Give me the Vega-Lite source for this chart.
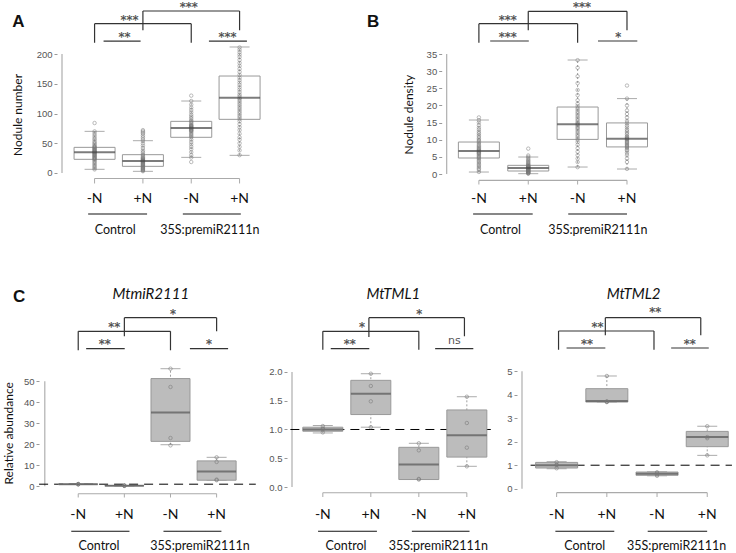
{
"$schema": "https://vega.github.io/schema/vega-lite/v6.json",
"background": "white",
"padding": {"left": 2, "top": 0, "right": 0, "bottom": 0},
"config": {
 "view": {"stroke": null},
 "axis": {"domain": false, "grid": false, "ticks": true, "tickSize": 3, "tickColor": "#999999", "labelColor": "#555555", "labelFont": "Liberation Sans", "labelFontSize": 9.5, "labelPadding": 2, "labelFlush": false, "labelOverlap": false, "labelBound": false, "titleFont": "Lato", "titleFontSize": 12, "titleFontWeight": "normal", "titleColor": "#111111", "titleAngle": -90, "titleAlign": "center", "titleBaseline": "middle"},
 "axisY": {"labelOverlap": false},
 "axisLeft": {"labelOverlap": false}
},
"datasets": {
 "box": [
  {"p":"A","g":1,"lab":"-N","lo":6.2,"q1":23,"med":34.7,"q3":43.1,"hi":70},
  {"p":"A","g":2,"lab":"+N","lo":2.8,"q1":11.2,"med":20.2,"q3":30.8,"hi":54.3},
  {"p":"A","g":3,"lab":"-N","lo":26.3,"q1":60,"med":75.6,"q3":86.8,"hi":121},
  {"p":"A","g":4,"lab":"+N","lo":29.7,"q1":90.2,"med":126.6,"q3":163,"hi":211.8},
  {"p":"B","g":1,"lab":"-N","lo":0.58,"q1":4.67,"med":6.7,"q3":9.33,"hi":15.75},
  {"p":"B","g":2,"lab":"+N","lo":0.1,"q1":0.875,"med":1.75,"q3":2.53,"hi":4.96},
  {"p":"B","g":3,"lab":"-N","lo":2.04,"q1":10.1,"med":14.5,"q3":19.54,"hi":33.25},
  {"p":"B","g":4,"lab":"+N","lo":1.46,"q1":7.9,"med":10.3,"q3":14.9,"hi":22},
  {"p":"C1","g":1,"lab":"-N","lo":0.9,"q1":0.95,"med":1.0,"q3":1.05,"hi":1.1},
  {"p":"C1","g":2,"lab":"+N","lo":0.2,"q1":0.25,"med":0.3,"q3":0.35,"hi":0.4},
  {"p":"C1","g":3,"lab":"-N","lo":19.8,"q1":21.4,"med":35.1,"q3":51.3,"hi":56},
  {"p":"C1","g":4,"lab":"+N","lo":2.9,"q1":2.9,"med":7.1,"q3":12.1,"hi":13.8},
  {"p":"C2","g":1,"lab":"-N","lo":0.94,"q1":0.97,"med":1.0,"q3":1.04,"hi":1.07},
  {"p":"C2","g":2,"lab":"+N","lo":1.04,"q1":1.26,"med":1.62,"q3":1.855,"hi":1.97},
  {"p":"C2","g":3,"lab":"-N","lo":0.13,"q1":0.13,"med":0.39,"q3":0.69,"hi":0.76},
  {"p":"C2","g":4,"lab":"+N","lo":0.36,"q1":0.52,"med":0.9,"q3":1.34,"hi":1.57},
  {"p":"C3","g":1,"lab":"-N","lo":0.85,"q1":0.88,"med":1.0,"q3":1.12,"hi":1.15},
  {"p":"C3","g":2,"lab":"+N","lo":3.69,"q1":3.69,"med":3.74,"q3":4.26,"hi":4.8},
  {"p":"C3","g":3,"lab":"-N","lo":0.55,"q1":0.57,"med":0.64,"q3":0.71,"hi":0.72},
  {"p":"C3","g":4,"lab":"+N","lo":1.42,"q1":1.79,"med":2.2,"q3":2.44,"hi":2.66}
 ],
 "pts": [
  {"p":"A","g":1,"v":84},{"p":"A","g":1,"v":70},{"p":"A","g":1,"v":67},{"p":"A","g":1,"v":64},{"p":"A","g":1,"v":61},{"p":"A","g":1,"v":58},{"p":"A","g":1,"v":56},{"p":"A","g":1,"v":53},{"p":"A","g":1,"v":51},{"p":"A","g":1,"v":49},{"p":"A","g":1,"v":47},{"p":"A","g":1,"v":45},{"p":"A","g":1,"v":44},{"p":"A","g":1,"v":43},{"p":"A","g":1,"v":42},{"p":"A","g":1,"v":41},{"p":"A","g":1,"v":40},{"p":"A","g":1,"v":39},{"p":"A","g":1,"v":38},{"p":"A","g":1,"v":37},{"p":"A","g":1,"v":36},{"p":"A","g":1,"v":35.5},{"p":"A","g":1,"v":35},{"p":"A","g":1,"v":34.5},{"p":"A","g":1,"v":34},{"p":"A","g":1,"v":33},{"p":"A","g":1,"v":32},{"p":"A","g":1,"v":31},{"p":"A","g":1,"v":30},{"p":"A","g":1,"v":29},{"p":"A","g":1,"v":28},{"p":"A","g":1,"v":27},{"p":"A","g":1,"v":26},{"p":"A","g":1,"v":25},{"p":"A","g":1,"v":24},{"p":"A","g":1,"v":23},{"p":"A","g":1,"v":22},{"p":"A","g":1,"v":20},{"p":"A","g":1,"v":18},{"p":"A","g":1,"v":16},{"p":"A","g":1,"v":14},{"p":"A","g":1,"v":12},{"p":"A","g":1,"v":10},{"p":"A","g":1,"v":8},{"p":"A","g":1,"v":6},
  {"p":"A","g":2,"v":72},{"p":"A","g":2,"v":70},{"p":"A","g":2,"v":68},{"p":"A","g":2,"v":66},{"p":"A","g":2,"v":63},{"p":"A","g":2,"v":60},{"p":"A","g":2,"v":57},{"p":"A","g":2,"v":54},{"p":"A","g":2,"v":50},{"p":"A","g":2,"v":46},{"p":"A","g":2,"v":42},{"p":"A","g":2,"v":38},{"p":"A","g":2,"v":35},{"p":"A","g":2,"v":32},{"p":"A","g":2,"v":30},{"p":"A","g":2,"v":28},{"p":"A","g":2,"v":26},{"p":"A","g":2,"v":25},{"p":"A","g":2,"v":24},{"p":"A","g":2,"v":23},{"p":"A","g":2,"v":22},{"p":"A","g":2,"v":21},{"p":"A","g":2,"v":20.5},{"p":"A","g":2,"v":20},{"p":"A","g":2,"v":19.5},{"p":"A","g":2,"v":19},{"p":"A","g":2,"v":18},{"p":"A","g":2,"v":17},{"p":"A","g":2,"v":16},{"p":"A","g":2,"v":15},{"p":"A","g":2,"v":14},{"p":"A","g":2,"v":13},{"p":"A","g":2,"v":12},{"p":"A","g":2,"v":11},{"p":"A","g":2,"v":10},{"p":"A","g":2,"v":9},{"p":"A","g":2,"v":8},{"p":"A","g":2,"v":7},{"p":"A","g":2,"v":6},{"p":"A","g":2,"v":5},{"p":"A","g":2,"v":4},{"p":"A","g":2,"v":3},
  {"p":"A","g":3,"v":130},{"p":"A","g":3,"v":121},{"p":"A","g":3,"v":115},{"p":"A","g":3,"v":110},{"p":"A","g":3,"v":106},{"p":"A","g":3,"v":102},{"p":"A","g":3,"v":98},{"p":"A","g":3,"v":95},{"p":"A","g":3,"v":92},{"p":"A","g":3,"v":89},{"p":"A","g":3,"v":87},{"p":"A","g":3,"v":85},{"p":"A","g":3,"v":83},{"p":"A","g":3,"v":81},{"p":"A","g":3,"v":80},{"p":"A","g":3,"v":79},{"p":"A","g":3,"v":78},{"p":"A","g":3,"v":77},{"p":"A","g":3,"v":76},{"p":"A","g":3,"v":75.5},{"p":"A","g":3,"v":75},{"p":"A","g":3,"v":74},{"p":"A","g":3,"v":73},{"p":"A","g":3,"v":72},{"p":"A","g":3,"v":71},{"p":"A","g":3,"v":70},{"p":"A","g":3,"v":68},{"p":"A","g":3,"v":66},{"p":"A","g":3,"v":64},{"p":"A","g":3,"v":62},{"p":"A","g":3,"v":60},{"p":"A","g":3,"v":56},{"p":"A","g":3,"v":52},{"p":"A","g":3,"v":48},{"p":"A","g":3,"v":44},{"p":"A","g":3,"v":40},{"p":"A","g":3,"v":35},{"p":"A","g":3,"v":30},{"p":"A","g":3,"v":26},{"p":"A","g":3,"v":18.5},
  {"p":"A","g":4,"v":211},{"p":"A","g":4,"v":207},{"p":"A","g":4,"v":203},{"p":"A","g":4,"v":199},{"p":"A","g":4,"v":195},{"p":"A","g":4,"v":190},{"p":"A","g":4,"v":185},{"p":"A","g":4,"v":180},{"p":"A","g":4,"v":175},{"p":"A","g":4,"v":170},{"p":"A","g":4,"v":165},{"p":"A","g":4,"v":160},{"p":"A","g":4,"v":156},{"p":"A","g":4,"v":152},{"p":"A","g":4,"v":148},{"p":"A","g":4,"v":144},{"p":"A","g":4,"v":140},{"p":"A","g":4,"v":136},{"p":"A","g":4,"v":132},{"p":"A","g":4,"v":129},{"p":"A","g":4,"v":126},{"p":"A","g":4,"v":124},{"p":"A","g":4,"v":121},{"p":"A","g":4,"v":118},{"p":"A","g":4,"v":115},{"p":"A","g":4,"v":112},{"p":"A","g":4,"v":109},{"p":"A","g":4,"v":106},{"p":"A","g":4,"v":103},{"p":"A","g":4,"v":100},{"p":"A","g":4,"v":97},{"p":"A","g":4,"v":94},{"p":"A","g":4,"v":91},{"p":"A","g":4,"v":87},{"p":"A","g":4,"v":82},{"p":"A","g":4,"v":77},{"p":"A","g":4,"v":72},{"p":"A","g":4,"v":66},{"p":"A","g":4,"v":60},{"p":"A","g":4,"v":56},{"p":"A","g":4,"v":50},{"p":"A","g":4,"v":44},{"p":"A","g":4,"v":38},{"p":"A","g":4,"v":30},
  {"p":"B","g":1,"v":16.5},{"p":"B","g":1,"v":15.7},{"p":"B","g":1,"v":15},{"p":"B","g":1,"v":14.2},{"p":"B","g":1,"v":13.5},{"p":"B","g":1,"v":12.9},{"p":"B","g":1,"v":12.3},{"p":"B","g":1,"v":11.8},{"p":"B","g":1,"v":11.3},{"p":"B","g":1,"v":10.8},{"p":"B","g":1,"v":10.3},{"p":"B","g":1,"v":9.9},{"p":"B","g":1,"v":9.5},{"p":"B","g":1,"v":9.1},{"p":"B","g":1,"v":8.7},{"p":"B","g":1,"v":8.3},{"p":"B","g":1,"v":8},{"p":"B","g":1,"v":7.7},{"p":"B","g":1,"v":7.4},{"p":"B","g":1,"v":7.1},{"p":"B","g":1,"v":6.9},{"p":"B","g":1,"v":6.7},{"p":"B","g":1,"v":6.5},{"p":"B","g":1,"v":6.3},{"p":"B","g":1,"v":6.1},{"p":"B","g":1,"v":5.9},{"p":"B","g":1,"v":5.6},{"p":"B","g":1,"v":5.3},{"p":"B","g":1,"v":5},{"p":"B","g":1,"v":4.7},{"p":"B","g":1,"v":4.4},{"p":"B","g":1,"v":4},{"p":"B","g":1,"v":3.6},{"p":"B","g":1,"v":3.2},{"p":"B","g":1,"v":2.8},{"p":"B","g":1,"v":2.4},{"p":"B","g":1,"v":2},{"p":"B","g":1,"v":1.6},{"p":"B","g":1,"v":1.2},{"p":"B","g":1,"v":0.6},
  {"p":"B","g":2,"v":7.4},{"p":"B","g":2,"v":5.4},{"p":"B","g":2,"v":5.0},{"p":"B","g":2,"v":4.6},{"p":"B","g":2,"v":4.2},{"p":"B","g":2,"v":3.9},{"p":"B","g":2,"v":3.6},{"p":"B","g":2,"v":3.3},{"p":"B","g":2,"v":3.0},{"p":"B","g":2,"v":2.8},{"p":"B","g":2,"v":2.6},{"p":"B","g":2,"v":2.4},{"p":"B","g":2,"v":2.3},{"p":"B","g":2,"v":2.2},{"p":"B","g":2,"v":2.1},{"p":"B","g":2,"v":2.0},{"p":"B","g":2,"v":1.9},{"p":"B","g":2,"v":1.8},{"p":"B","g":2,"v":1.75},{"p":"B","g":2,"v":1.7},{"p":"B","g":2,"v":1.6},{"p":"B","g":2,"v":1.5},{"p":"B","g":2,"v":1.4},{"p":"B","g":2,"v":1.3},{"p":"B","g":2,"v":1.2},{"p":"B","g":2,"v":1.1},{"p":"B","g":2,"v":1.0},{"p":"B","g":2,"v":0.9},{"p":"B","g":2,"v":0.8},{"p":"B","g":2,"v":0.7},{"p":"B","g":2,"v":0.6},{"p":"B","g":2,"v":0.5},{"p":"B","g":2,"v":0.4},{"p":"B","g":2,"v":0.3},{"p":"B","g":2,"v":0.2},{"p":"B","g":2,"v":0.1},
  {"p":"B","g":3,"v":33.2},{"p":"B","g":3,"v":31},{"p":"B","g":3,"v":28.5},{"p":"B","g":3,"v":26.5},{"p":"B","g":3,"v":24.5},{"p":"B","g":3,"v":23},{"p":"B","g":3,"v":21.5},{"p":"B","g":3,"v":20.5},{"p":"B","g":3,"v":19.8},{"p":"B","g":3,"v":19.2},{"p":"B","g":3,"v":18.7},{"p":"B","g":3,"v":18.2},{"p":"B","g":3,"v":17.7},{"p":"B","g":3,"v":17.2},{"p":"B","g":3,"v":16.7},{"p":"B","g":3,"v":16.2},{"p":"B","g":3,"v":15.7},{"p":"B","g":3,"v":15.2},{"p":"B","g":3,"v":14.8},{"p":"B","g":3,"v":14.5},{"p":"B","g":3,"v":14.2},{"p":"B","g":3,"v":13.8},{"p":"B","g":3,"v":13.4},{"p":"B","g":3,"v":13},{"p":"B","g":3,"v":12.5},{"p":"B","g":3,"v":12},{"p":"B","g":3,"v":11.5},{"p":"B","g":3,"v":11},{"p":"B","g":3,"v":10.5},{"p":"B","g":3,"v":10},{"p":"B","g":3,"v":9.3},{"p":"B","g":3,"v":8.5},{"p":"B","g":3,"v":7.5},{"p":"B","g":3,"v":6.5},{"p":"B","g":3,"v":5.5},{"p":"B","g":3,"v":4.5},{"p":"B","g":3,"v":3.5},{"p":"B","g":3,"v":2.0},
  {"p":"B","g":4,"v":25.8},{"p":"B","g":4,"v":22},{"p":"B","g":4,"v":20},{"p":"B","g":4,"v":18.5},{"p":"B","g":4,"v":17.5},{"p":"B","g":4,"v":16.5},{"p":"B","g":4,"v":15.5},{"p":"B","g":4,"v":14.8},{"p":"B","g":4,"v":14.2},{"p":"B","g":4,"v":13.6},{"p":"B","g":4,"v":13},{"p":"B","g":4,"v":12.5},{"p":"B","g":4,"v":12},{"p":"B","g":4,"v":11.5},{"p":"B","g":4,"v":11},{"p":"B","g":4,"v":10.7},{"p":"B","g":4,"v":10.4},{"p":"B","g":4,"v":10.2},{"p":"B","g":4,"v":10},{"p":"B","g":4,"v":9.7},{"p":"B","g":4,"v":9.4},{"p":"B","g":4,"v":9.1},{"p":"B","g":4,"v":8.8},{"p":"B","g":4,"v":8.5},{"p":"B","g":4,"v":8.2},{"p":"B","g":4,"v":7.9},{"p":"B","g":4,"v":7.6},{"p":"B","g":4,"v":7.2},{"p":"B","g":4,"v":6.8},{"p":"B","g":4,"v":6.2},{"p":"B","g":4,"v":5.5},{"p":"B","g":4,"v":4.5},{"p":"B","g":4,"v":3.5},{"p":"B","g":4,"v":1.5},
  {"p":"C1","g":1,"v":0.9},{"p":"C1","g":1,"v":1.0},{"p":"C1","g":1,"v":1.05},{"p":"C1","g":1,"v":1.1},
  {"p":"C1","g":2,"v":0.2},{"p":"C1","g":2,"v":0.3},{"p":"C1","g":2,"v":0.3},{"p":"C1","g":2,"v":0.4},
  {"p":"C1","g":3,"v":56},{"p":"C1","g":3,"v":47.3},{"p":"C1","g":3,"v":23},{"p":"C1","g":3,"v":19.5},
  {"p":"C1","g":4,"v":13.8},{"p":"C1","g":4,"v":11.6},{"p":"C1","g":4,"v":3.2},{"p":"C1","g":4,"v":2.9},
  {"p":"C2","g":1,"v":0.95},{"p":"C2","g":1,"v":1.0},{"p":"C2","g":1,"v":1.02},{"p":"C2","g":1,"v":1.06},
  {"p":"C2","g":2,"v":1.97},{"p":"C2","g":2,"v":1.757},{"p":"C2","g":2,"v":1.49},{"p":"C2","g":2,"v":1.04},
  {"p":"C2","g":3,"v":0.76},{"p":"C2","g":3,"v":0.638},{"p":"C2","g":3,"v":0.14},{"p":"C2","g":3,"v":0.13},
  {"p":"C2","g":4,"v":1.57},{"p":"C2","g":4,"v":1.113},{"p":"C2","g":4,"v":0.684},{"p":"C2","g":4,"v":0.36},
  {"p":"C3","g":1,"v":0.87},{"p":"C3","g":1,"v":1.0},{"p":"C3","g":1,"v":1.02},{"p":"C3","g":1,"v":1.13},
  {"p":"C3","g":2,"v":4.8},{"p":"C3","g":2,"v":3.72},{"p":"C3","g":2,"v":3.7},{"p":"C3","g":2,"v":3.69},
  {"p":"C3","g":3,"v":0.55},{"p":"C3","g":3,"v":0.6},{"p":"C3","g":3,"v":0.65},{"p":"C3","g":3,"v":0.7},
  {"p":"C3","g":4,"v":2.66},{"p":"C3","g":4,"v":2.2},{"p":"C3","g":4,"v":2.15},{"p":"C3","g":4,"v":1.42}
 ],
 "segs": [
  {"p":"A","k":"ax","x1":0.326,"x2":0.326,"y1":0,"y2":200},
  {"p":"A","k":"ax","x1":1,"x2":4,"y1":-9.2,"y2":-9.2},
  {"p":"A","k":"ul","x1":0.867,"x2":2.086,"y1":-68.9,"y2":-68.9},
  {"p":"A","k":"ul","x1":2.826,"x2":4.026,"y1":-68.9,"y2":-68.9},
  {"p":"A","k":"br","x1":1,"x2":1,"y1":219,"y2":250.9},
  {"p":"A","k":"br","x1":1,"x2":3,"y1":250.9,"y2":250.9},
  {"p":"A","k":"br","x1":3,"x2":3,"y1":219,"y2":250.9},
  {"p":"A","k":"br","x1":2,"x2":2,"y1":239.8,"y2":272.3},
  {"p":"A","k":"br","x1":2,"x2":4,"y1":272.3,"y2":272.3},
  {"p":"A","k":"br","x1":4,"x2":4,"y1":239.8,"y2":272.3},
  {"p":"A","k":"br","x1":1.186,"x2":1.952,"y1":221.8,"y2":221.8},
  {"p":"A","k":"br","x1":3.366,"x2":4.152,"y1":221.8,"y2":221.8},
  {"p":"B","k":"ax","x1":0.348,"x2":0.348,"y1":0,"y2":35},
  {"p":"B","k":"ax","x1":1,"x2":4,"y1":-1.84,"y2":-1.84},
  {"p":"B","k":"ul","x1":0.883,"x2":2.09,"y1":-11.67,"y2":-11.67},
  {"p":"B","k":"ul","x1":2.81,"x2":4.0,"y1":-11.67,"y2":-11.67},
  {"p":"B","k":"br","x1":1,"x2":1,"y1":38.3,"y2":43.84},
  {"p":"B","k":"br","x1":1,"x2":3,"y1":43.84,"y2":43.84},
  {"p":"B","k":"br","x1":3,"x2":3,"y1":38.3,"y2":43.84},
  {"p":"B","k":"br","x1":2,"x2":2,"y1":41.9,"y2":47.45},
  {"p":"B","k":"br","x1":2,"x2":4,"y1":47.45,"y2":47.45},
  {"p":"B","k":"br","x1":4,"x2":4,"y1":41.9,"y2":47.45},
  {"p":"B","k":"br","x1":1.229,"x2":2.011,"y1":38.79,"y2":38.79},
  {"p":"B","k":"br","x1":3.413,"x2":4.209,"y1":38.79,"y2":38.79},
  {"p":"C1","k":"ax","x1":0.2758,"x2":0.2758,"y1":0,"y2":50},
  {"p":"C1","k":"ax","x1":1,"x2":4,"y1":-3.524,"y2":-3.524},
  {"p":"C1","k":"ul","x1":0.849,"x2":2.111,"y1":-21.43,"y2":-21.43},
  {"p":"C1","k":"ul","x1":2.848,"x2":4.104,"y1":-21.43,"y2":-21.43},
  {"p":"C1","k":"br","x1":1,"x2":1,"y1":64.76,"y2":73.81},
  {"p":"C1","k":"br","x1":1,"x2":3,"y1":73.81,"y2":73.81},
  {"p":"C1","k":"br","x1":3,"x2":3,"y1":64.76,"y2":73.81},
  {"p":"C1","k":"br","x1":2,"x2":2,"y1":71.43,"y2":80.29},
  {"p":"C1","k":"br","x1":2,"x2":4,"y1":80.29,"y2":80.29},
  {"p":"C1","k":"br","x1":4,"x2":4,"y1":73.81,"y2":80.29},
  {"p":"C1","k":"br","x1":1.172,"x2":2.008,"y1":65.52,"y2":65.52},
  {"p":"C1","k":"br","x1":3.421,"x2":4.249,"y1":65.52,"y2":65.52},
  {"p":"C1","k":"dash","x1":0.152,"x2":4.849,"y1":1,"y2":1},
  {"p":"C2","k":"ax","x1":0.358,"x2":0.358,"y1":0,"y2":2},
  {"p":"C2","k":"ax","x1":1,"x2":4,"y1":-0.0991,"y2":-0.0991},
  {"p":"C2","k":"ul","x1":0.901,"x2":2.127,"y1":-0.77,"y2":-0.77},
  {"p":"C2","k":"ul","x1":2.855,"x2":4.056,"y1":-0.77,"y2":-0.77},
  {"p":"C2","k":"br","x1":1,"x2":1,"y1":2.388,"y2":2.708},
  {"p":"C2","k":"br","x1":1,"x2":3,"y1":2.708,"y2":2.708},
  {"p":"C2","k":"br","x1":3,"x2":3,"y1":2.388,"y2":2.708},
  {"p":"C2","k":"br","x1":1.96,"x2":1.96,"y1":2.609,"y2":2.944},
  {"p":"C2","k":"br","x1":1.96,"x2":3.95,"y1":2.944,"y2":2.944},
  {"p":"C2","k":"br","x1":3.95,"x2":3.95,"y1":2.621,"y2":2.944},
  {"p":"C2","k":"br","x1":1.165,"x2":1.968,"y1":2.405,"y2":2.405},
  {"p":"C2","k":"br","x1":3.34,"x2":4.135,"y1":2.405,"y2":2.405},
  {"p":"C2","k":"dash","x1":0.324,"x2":4.499,"y1":1,"y2":1},
  {"p":"C3","k":"ax","x1":0.31,"x2":0.31,"y1":0,"y2":5},
  {"p":"C3","k":"ax","x1":1,"x2":4,"y1":-0.17,"y2":-0.17},
  {"p":"C3","k":"ul","x1":0.975,"x2":2.148,"y1":-1.814,"y2":-1.814},
  {"p":"C3","k":"ul","x1":2.814,"x2":3.998,"y1":-1.814,"y2":-1.814},
  {"p":"C3","k":"br","x1":1.038,"x2":1.038,"y1":5.92,"y2":6.716},
  {"p":"C3","k":"br","x1":1.038,"x2":2.939,"y1":6.716,"y2":6.716},
  {"p":"C3","k":"br","x1":2.939,"x2":2.939,"y1":5.92,"y2":6.716},
  {"p":"C3","k":"br","x1":1.97,"x2":1.97,"y1":6.533,"y2":7.283},
  {"p":"C3","k":"br","x1":1.97,"x2":3.871,"y1":7.283,"y2":7.283},
  {"p":"C3","k":"br","x1":3.871,"x2":3.871,"y1":6.533,"y2":7.283},
  {"p":"C3","k":"br","x1":1.198,"x2":1.97,"y1":5.992,"y2":5.992},
  {"p":"C3","k":"br","x1":3.281,"x2":4.03,"y1":5.992,"y2":5.992},
  {"p":"C3","k":"dash","x1":0.481,"x2":4.492,"y1":1,"y2":1}
 ],
 "txt": [
  {"p":"A","k":"star","x":1.72,"y":262.2,"t":"***"},
  {"p":"A","k":"star","x":1.62,"y":233.1,"t":"**"},
  {"p":"A","k":"star","x":2.946,"y":284.5,"t":"***"},
  {"p":"A","k":"star","x":3.752,"y":233.1,"t":"***"},
  {"p":"A","k":"grp","x":1.426,"y":-95.8,"t":"Control"},
  {"p":"A","k":"grp","x":3.386,"y":-95.8,"t":"35S:premiR2111n"},
  {"p":"A","k":"let","x":-0.574,"y":253.8,"t":"A"},
  {"p":"B","k":"star","x":1.587,"y":45.79,"t":"***"},
  {"p":"B","k":"star","x":1.587,"y":40.75,"t":"***"},
  {"p":"B","k":"star","x":3.088,"y":49.67,"t":"***"},
  {"p":"B","k":"star","x":3.824,"y":40.75,"t":"*"},
  {"p":"B","k":"grp","x":1.436,"y":-16.4,"t":"Control"},
  {"p":"B","k":"grp","x":3.41,"y":-16.4,"t":"35S:premiR2111n"},
  {"p":"B","k":"let","x":-1.143,"y":44.33,"t":"B"},
  {"p":"C1","k":"star","x":3.055,"y":83.48,"t":"*"},
  {"p":"C1","k":"star","x":1.78,"y":77.43,"t":"**"},
  {"p":"C1","k":"star","x":1.573,"y":69.19,"t":"**"},
  {"p":"C1","k":"star","x":3.835,"y":69.19,"t":"*"},
  {"p":"C1","k":"grp","x":1.449,"y":-28.43,"t":"Control"},
  {"p":"C1","k":"grp","x":3.64,"y":-28.43,"t":"35S:premiR2111n"},
  {"p":"C1","k":"ttl","x":2.573,"y":91.57,"t":"MtmiR2111"},
  {"p":"C1","k":"let","x":-0.283,"y":90.14,"t":"C"},
  {"p":"C2","k":"star","x":3.008,"y":3.061,"t":"*"},
  {"p":"C2","k":"star","x":1.815,"y":2.84,"t":"*"},
  {"p":"C2","k":"star","x":1.563,"y":2.539,"t":"**"},
  {"p":"C2","k":"ns","x":3.738,"y":2.539,"t":"ns"},
  {"p":"C2","k":"grp","x":1.483,"y":-1.026,"t":"Control"},
  {"p":"C2","k":"grp","x":3.406,"y":-1.026,"t":"35S:premiR2111n"},
  {"p":"C2","k":"ttl","x":2.471,"y":3.357,"t":"MtTML1"},
  {"p":"C3","k":"star","x":2.966,"y":7.666,"t":"**"},
  {"p":"C3","k":"star","x":1.812,"y":7.027,"t":"**"},
  {"p":"C3","k":"star","x":1.603,"y":6.29,"t":"**"},
  {"p":"C3","k":"star","x":3.65,"y":6.29,"t":"**"},
  {"p":"C3","k":"grp","x":1.559,"y":-2.44,"t":"Control"},
  {"p":"C3","k":"grp","x":3.39,"y":-2.44,"t":"35S:premiR2111n"},
  {"p":"C3","k":"ttl","x":2.534,"y":8.284,"t":"MtTML2"}
 ]
},
"spacing": 280,
"bounds": "flush",
"vconcat": [
 {"hconcat": [
  {"width": 300, "height": 240,
   "layer": [
    {"data": {"name": "segs"}, "transform": [{"filter": "datum.p == 'A'"}], "mark": {"type": "rule"},
     "encoding": {
      "x": {"field": "x1", "type": "quantitative", "scale": {"domain": [0.326, 6.326], "nice": false, "zero": false}, "axis": null},
      "x2": {"field": "x2"},
      "y": {"field": "y1", "type": "quantitative", "scale": {"domain": [-115.97, 287.4], "nice": false, "zero": false}, "axis": {"values": [0,50,100,150,200], "labelOverlap": false, "title": "Nodule number", "titleX": -39.8, "titleY": 112.5}},
      "y2": {"field": "y2"},
      "color": {"field": "k", "type": "nominal", "scale": {"domain": ["br","ax","ul","dash"], "range": ["#333333","#aaaaaa","#111111","#000000"]}, "legend": null},
      "strokeWidth": {"field": "k", "type": "ordinal", "scale": {"domain": ["br","ax","ul","dash"], "range": [1.2,1,1,2.6]}, "legend": null},
      "strokeDash": {"field": "k", "type": "ordinal", "scale": {"domain": ["br","ax","ul","dash"], "range": [[1,0],[1,0],[1,0],[9,6]]}, "legend": null}
     }},
    {"data": {"name": "box"}, "transform": [{"filter": "datum.p == 'A'"}], "mark": {"type": "rule", "color": "#888888", "strokeDash": [2,2], "strokeWidth": 0.8},
     "encoding": {"x": {"field": "g", "type": "quantitative", "axis": null}, "y": {"field": "lo", "type": "quantitative"}, "y2": {"field": "hi"}}},
    {"data": {"name": "box"}, "transform": [{"filter": "datum.p == 'A'"}], "mark": {"type": "tick", "orient": "horizontal", "size": 20, "thickness": 1, "color": "#888888"},
     "encoding": {"x": {"field": "g", "type": "quantitative", "axis": null}, "y": {"field": "lo", "type": "quantitative"}}},
    {"data": {"name": "box"}, "transform": [{"filter": "datum.p == 'A'"}], "mark": {"type": "tick", "orient": "horizontal", "size": 20, "thickness": 1, "color": "#888888"},
     "encoding": {"x": {"field": "g", "type": "quantitative", "axis": null}, "y": {"field": "hi", "type": "quantitative"}}},
    {"data": {"name": "box"}, "transform": [{"filter": "datum.p == 'A'"}], "mark": {"type": "bar", "width": 41, "fill": "white", "fillOpacity": 0, "stroke": "#999999", "strokeWidth": 1},
     "encoding": {"x": {"field": "g", "type": "quantitative", "axis": null}, "y": {"field": "q1", "type": "quantitative"}, "y2": {"field": "q3"}}},
    {"data": {"name": "pts"}, "transform": [{"filter": "datum.p == 'A'"}], "mark": {"type": "point", "shape": "circle", "size": 12, "filled": false, "strokeWidth": 0.7, "color": "#777777"},
     "encoding": {"x": {"field": "g", "type": "quantitative", "axis": null}, "y": {"field": "v", "type": "quantitative"}}},
    {"data": {"name": "box"}, "transform": [{"filter": "datum.p == 'A'"}], "mark": {"type": "tick", "orient": "horizontal", "size": 41, "thickness": 2, "color": "#444444"},
     "encoding": {"x": {"field": "g", "type": "quantitative", "axis": null}, "y": {"field": "med", "type": "quantitative"}}},
    {"data": {"name": "box"}, "transform": [{"filter": "datum.p == 'A'"}], "mark": {"type": "rule", "color": "#aaaaaa"},
     "encoding": {"x": {"field": "g", "type": "quantitative", "axis": null}, "y": {"datum": -9.2, "type": "quantitative"}, "y2": {"datum": -17.6}}},
    {"data": {"name": "box"}, "transform": [{"filter": "datum.p == 'A'"}], "mark": {"type": "text", "font": "Lato", "fontSize": 14, "color": "#111111", "baseline": "middle"},
     "encoding": {"x": {"field": "g", "type": "quantitative", "axis": null}, "y": {"datum": -43.7, "type": "quantitative"}, "text": {"field": "lab"}}},
    {"data": {"name": "txt"}, "transform": [{"filter": "datum.p == 'A' && datum.k == 'star'"}], "mark": {"type": "text", "font": "DejaVu Sans", "fontSize": 12, "color": "#444444", "stroke": "#555555", "strokeWidth": 0.25, "baseline": "middle", "dy": 3},
     "encoding": {"x": {"field": "x", "type": "quantitative", "axis": null}, "y": {"field": "y", "type": "quantitative"}, "text": {"field": "t"}}},
    {"data": {"name": "txt"}, "transform": [{"filter": "datum.p == 'A' && datum.k == 'grp'"}], "mark": {"type": "text", "font": "Lato", "fontSize": 12.5, "color": "#111111", "baseline": "middle"},
     "encoding": {"x": {"field": "x", "type": "quantitative", "axis": null}, "y": {"field": "y", "type": "quantitative"}, "text": {"field": "t"}}},
    {"data": {"name": "txt"}, "transform": [{"filter": "datum.p == 'A' && datum.k == 'let'"}], "mark": {"type": "text", "font": "Liberation Sans", "fontWeight": "bold", "fontSize": 17, "color": "#111111", "baseline": "middle"},
     "encoding": {"x": {"field": "x", "type": "quantitative", "axis": null}, "y": {"field": "y", "type": "quantitative"}, "text": {"field": "t"}}}
   ]},
  {"width": 294.3, "height": 240,
   "layer": [
    {"data": {"name": "segs"}, "transform": [{"filter": "datum.p == 'B'"}], "mark": {"type": "rule"},
     "encoding": {
      "x": {"field": "x1", "type": "quantitative", "scale": {"domain": [0.348, 6.107], "nice": false, "zero": false}, "axis": null},
      "x2": {"field": "x2"},
      "y": {"field": "y1", "type": "quantitative", "scale": {"domain": [-19.83, 50.17], "nice": false, "zero": false}, "axis": {"values": [0,5,10,15,20,25,30,35], "labelOverlap": false, "labelSeparation": 0, "title": "Nodule density", "titleX": -33, "titleY": 112.2}},
      "y2": {"field": "y2"},
      "color": {"field": "k", "type": "nominal", "scale": {"domain": ["br","ax","ul","dash"], "range": ["#333333","#aaaaaa","#111111","#000000"]}, "legend": null},
      "strokeWidth": {"field": "k", "type": "ordinal", "scale": {"domain": ["br","ax","ul","dash"], "range": [1.2,1,1,2.6]}, "legend": null},
      "strokeDash": {"field": "k", "type": "ordinal", "scale": {"domain": ["br","ax","ul","dash"], "range": [[1,0],[1,0],[1,0],[9,6]]}, "legend": null}
     }},
    {"data": {"name": "box"}, "transform": [{"filter": "datum.p == 'B'"}], "mark": {"type": "rule", "color": "#888888", "strokeDash": [2,2], "strokeWidth": 0.8},
     "encoding": {"x": {"field": "g", "type": "quantitative", "axis": null}, "y": {"field": "lo", "type": "quantitative", "axis": {"values": [0,5,10,15,20,25,30,35], "labelOverlap": false}}, "y2": {"field": "hi"}}},
    {"data": {"name": "box"}, "transform": [{"filter": "datum.p == 'B'"}], "mark": {"type": "tick", "orient": "horizontal", "size": 20, "thickness": 1, "color": "#888888"},
     "encoding": {"x": {"field": "g", "type": "quantitative", "axis": null}, "y": {"field": "lo", "type": "quantitative", "axis": {"values": [0,5,10,15,20,25,30,35], "labelOverlap": false}}}},
    {"data": {"name": "box"}, "transform": [{"filter": "datum.p == 'B'"}], "mark": {"type": "tick", "orient": "horizontal", "size": 20, "thickness": 1, "color": "#888888"},
     "encoding": {"x": {"field": "g", "type": "quantitative", "axis": null}, "y": {"field": "hi", "type": "quantitative", "axis": {"values": [0,5,10,15,20,25,30,35], "labelOverlap": false}}}},
    {"data": {"name": "box"}, "transform": [{"filter": "datum.p == 'B'"}], "mark": {"type": "bar", "width": 41, "fill": "white", "fillOpacity": 0, "stroke": "#999999", "strokeWidth": 1},
     "encoding": {"x": {"field": "g", "type": "quantitative", "axis": null}, "y": {"field": "q1", "type": "quantitative", "axis": {"values": [0,5,10,15,20,25,30,35], "labelOverlap": false}}, "y2": {"field": "q3"}}},
    {"data": {"name": "pts"}, "transform": [{"filter": "datum.p == 'B'"}], "mark": {"type": "point", "shape": "circle", "size": 12, "filled": false, "strokeWidth": 0.7, "color": "#777777"},
     "encoding": {"x": {"field": "g", "type": "quantitative", "axis": null}, "y": {"field": "v", "type": "quantitative", "axis": {"values": [0,5,10,15,20,25,30,35], "labelOverlap": false}}}},
    {"data": {"name": "box"}, "transform": [{"filter": "datum.p == 'B'"}], "mark": {"type": "tick", "orient": "horizontal", "size": 41, "thickness": 2, "color": "#444444"},
     "encoding": {"x": {"field": "g", "type": "quantitative", "axis": null}, "y": {"field": "med", "type": "quantitative", "axis": {"values": [0,5,10,15,20,25,30,35], "labelOverlap": false}}}},
    {"data": {"name": "box"}, "transform": [{"filter": "datum.p == 'B'"}], "mark": {"type": "rule", "color": "#aaaaaa"},
     "encoding": {"x": {"field": "g", "type": "quantitative", "axis": null}, "y": {"datum": -1.84, "type": "quantitative", "axis": {"values": [0,5,10,15,20,25,30,35], "labelOverlap": false}}, "y2": {"datum": -3.06}}},
    {"data": {"name": "box"}, "transform": [{"filter": "datum.p == 'B'"}], "mark": {"type": "text", "font": "Lato", "fontSize": 14, "color": "#111111", "baseline": "middle"},
     "encoding": {"x": {"field": "g", "type": "quantitative", "axis": null}, "y": {"datum": -7.29, "type": "quantitative", "axis": {"values": [0,5,10,15,20,25,30,35], "labelOverlap": false}}, "text": {"field": "lab"}}},
    {"data": {"name": "txt"}, "transform": [{"filter": "datum.p == 'B' && datum.k == 'star'"}], "mark": {"type": "text", "font": "DejaVu Sans", "fontSize": 12, "color": "#444444", "stroke": "#555555", "strokeWidth": 0.25, "baseline": "middle", "dy": 3},
     "encoding": {"x": {"field": "x", "type": "quantitative", "axis": null}, "y": {"field": "y", "type": "quantitative", "axis": {"values": [0,5,10,15,20,25,30,35], "labelOverlap": false}}, "text": {"field": "t"}}},
    {"data": {"name": "txt"}, "transform": [{"filter": "datum.p == 'B' && datum.k == 'grp'"}], "mark": {"type": "text", "font": "Lato", "fontSize": 12.5, "color": "#111111", "baseline": "middle"},
     "encoding": {"x": {"field": "x", "type": "quantitative", "axis": null}, "y": {"field": "y", "type": "quantitative", "axis": {"values": [0,5,10,15,20,25,30,35], "labelOverlap": false}}, "text": {"field": "t"}}},
    {"data": {"name": "txt"}, "transform": [{"filter": "datum.p == 'B' && datum.k == 'let'"}], "mark": {"type": "text", "font": "Liberation Sans", "fontWeight": "bold", "fontSize": 17, "color": "#111111", "baseline": "middle"},
     "encoding": {"x": {"field": "x", "type": "quantitative", "axis": null}, "y": {"field": "y", "type": "quantitative", "axis": {"values": [0,5,10,15,20,25,30,35], "labelOverlap": false}}, "text": {"field": "t"}}}
   ]}
 ], "spacing": 84.7, "bounds": "flush"},
 {"hconcat": [
  {"width": 219.7, "height": 273,
   "layer": [
    {"data": {"name": "segs"}, "transform": [{"filter": "datum.p == 'C1'"}], "mark": {"type": "rule"},
     "encoding": {
      "x": {"field": "x1", "type": "quantitative", "scale": {"domain": [0.6483, 5.194], "nice": false, "zero": false}, "axis": null},
      "x2": {"field": "x2"},
      "y": {"field": "y1", "type": "quantitative", "scale": {"domain": [-32.714, 97.286], "nice": false, "zero": false}, "axis": {"values": [0,10,20,30,40,50], "labelOverlap": false, "offset": 18, "title": "Relative abundance", "titleX": -30.7, "titleY": 150.8}},
      "y2": {"field": "y2"},
      "color": {"field": "k", "type": "nominal", "scale": {"domain": ["br","ax","ul","dash"], "range": ["#333333","#aaaaaa","#111111","#000000"]}, "legend": null},
      "strokeWidth": {"field": "k", "type": "ordinal", "scale": {"domain": ["br","ax","ul","dash"], "range": [1.2,1,1,2.6]}, "legend": null},
      "strokeDash": {"field": "k", "type": "ordinal", "scale": {"domain": ["br","ax","ul","dash"], "range": [[1,0],[1,0],[1,0],[9,6]]}, "legend": null}
     }},
    {"data": {"name": "box"}, "transform": [{"filter": "datum.p == 'C1'"}], "mark": {"type": "rule", "color": "#888888", "strokeDash": [2,2], "strokeWidth": 0.8},
     "encoding": {"x": {"field": "g", "type": "quantitative", "axis": null}, "y": {"field": "lo", "type": "quantitative"}, "y2": {"field": "hi"}}},
    {"data": {"name": "box"}, "transform": [{"filter": "datum.p == 'C1'"}], "mark": {"type": "tick", "orient": "horizontal", "size": 20, "thickness": 1, "color": "#888888"},
     "encoding": {"x": {"field": "g", "type": "quantitative", "axis": null}, "y": {"field": "lo", "type": "quantitative"}}},
    {"data": {"name": "box"}, "transform": [{"filter": "datum.p == 'C1'"}], "mark": {"type": "tick", "orient": "horizontal", "size": 20, "thickness": 1, "color": "#888888"},
     "encoding": {"x": {"field": "g", "type": "quantitative", "axis": null}, "y": {"field": "hi", "type": "quantitative"}}},
    {"data": {"name": "box"}, "transform": [{"filter": "datum.p == 'C1'"}], "mark": {"type": "bar", "width": 39, "fill": "#bcbcbc", "stroke": "#999999", "strokeWidth": 1},
     "encoding": {"x": {"field": "g", "type": "quantitative", "axis": null}, "y": {"field": "q1", "type": "quantitative"}, "y2": {"field": "q3"}}},
    {"data": {"name": "box"}, "transform": [{"filter": "datum.p == 'C1'"}], "mark": {"type": "tick", "orient": "horizontal", "size": 39, "thickness": 2, "color": "#555555"},
     "encoding": {"x": {"field": "g", "type": "quantitative", "axis": null}, "y": {"field": "med", "type": "quantitative"}}},
    {"data": {"name": "pts"}, "transform": [{"filter": "datum.p == 'C1'"}], "mark": {"type": "point", "shape": "circle", "size": 12, "filled": false, "strokeWidth": 0.8, "color": "#777777"},
     "encoding": {"x": {"field": "g", "type": "quantitative", "axis": null}, "y": {"field": "v", "type": "quantitative"}}},
    {"data": {"name": "box"}, "transform": [{"filter": "datum.p == 'C1'"}], "mark": {"type": "rule", "color": "#aaaaaa"},
     "encoding": {"x": {"field": "g", "type": "quantitative", "axis": null}, "y": {"datum": -3.524, "type": "quantitative"}, "y2": {"datum": -5.33}}},
    {"data": {"name": "box"}, "transform": [{"filter": "datum.p == 'C1'"}], "mark": {"type": "text", "font": "Lato", "fontSize": 14, "color": "#111111", "baseline": "middle"},
     "encoding": {"x": {"field": "g", "type": "quantitative", "axis": null}, "y": {"datum": -13.81, "type": "quantitative"}, "text": {"field": "lab"}}},
    {"data": {"name": "txt"}, "transform": [{"filter": "datum.p == 'C1' && datum.k == 'star'"}], "mark": {"type": "text", "font": "DejaVu Sans", "fontSize": 12, "color": "#444444", "stroke": "#555555", "strokeWidth": 0.25, "baseline": "middle", "dy": 3},
     "encoding": {"x": {"field": "x", "type": "quantitative", "axis": null}, "y": {"field": "y", "type": "quantitative"}, "text": {"field": "t"}}},
    {"data": {"name": "txt"}, "transform": [{"filter": "datum.p == 'C1' && datum.k == 'grp'"}], "mark": {"type": "text", "font": "Lato", "fontSize": 12.5, "color": "#111111", "baseline": "middle"},
     "encoding": {"x": {"field": "x", "type": "quantitative", "axis": null}, "y": {"field": "y", "type": "quantitative"}, "text": {"field": "t"}}},
    {"data": {"name": "txt"}, "transform": [{"filter": "datum.p == 'C1' && datum.k == 'ttl'"}], "mark": {"type": "text", "font": "Lato", "fontStyle": "italic", "fontSize": 15, "color": "#111111", "baseline": "middle"},
     "encoding": {"x": {"field": "x", "type": "quantitative", "axis": null}, "y": {"field": "y", "type": "quantitative"}, "text": {"field": "t"}}},
    {"data": {"name": "txt"}, "transform": [{"filter": "datum.p == 'C1' && datum.k == 'let'"}], "mark": {"type": "text", "font": "Liberation Sans", "fontWeight": "bold", "fontSize": 17, "color": "#111111", "baseline": "middle"},
     "encoding": {"x": {"field": "x", "type": "quantitative", "axis": null}, "y": {"field": "y", "type": "quantitative"}, "text": {"field": "t"}}}
   ]},
  {"width": 219.3, "height": 273,
   "layer": [
    {"data": {"name": "segs"}, "transform": [{"filter": "datum.p == 'C2'"}], "mark": {"type": "rule"},
     "encoding": {
      "x": {"field": "x1", "type": "quantitative", "scale": {"domain": [0.358, 4.718], "nice": false, "zero": false}, "axis": null},
      "x2": {"field": "x2"},
      "y": {"field": "y1", "type": "quantitative", "scale": {"domain": [-1.1826, 3.5652], "nice": false, "zero": false}, "axis": {"values": [0,0.5,1,1.5,2], "labelOverlap": false, "format": ".1f", "title": null}},
      "y2": {"field": "y2"},
      "color": {"field": "k", "type": "nominal", "scale": {"domain": ["br","ax","ul","dash"], "range": ["#333333","#aaaaaa","#111111","#000000"]}, "legend": null},
      "strokeWidth": {"field": "k", "type": "ordinal", "scale": {"domain": ["br","ax","ul","dash"], "range": [1.2,1,1,2.6]}, "legend": null},
      "strokeDash": {"field": "k", "type": "ordinal", "scale": {"domain": ["br","ax","ul","dash"], "range": [[1,0],[1,0],[1,0],[9,6]]}, "legend": null}
     }},
    {"data": {"name": "box"}, "transform": [{"filter": "datum.p == 'C2'"}], "mark": {"type": "rule", "color": "#888888", "strokeDash": [2,2], "strokeWidth": 0.8},
     "encoding": {"x": {"field": "g", "type": "quantitative", "axis": null}, "y": {"field": "lo", "type": "quantitative"}, "y2": {"field": "hi"}}},
    {"data": {"name": "box"}, "transform": [{"filter": "datum.p == 'C2'"}], "mark": {"type": "tick", "orient": "horizontal", "size": 20, "thickness": 1, "color": "#888888"},
     "encoding": {"x": {"field": "g", "type": "quantitative", "axis": null}, "y": {"field": "lo", "type": "quantitative"}}},
    {"data": {"name": "box"}, "transform": [{"filter": "datum.p == 'C2'"}], "mark": {"type": "tick", "orient": "horizontal", "size": 20, "thickness": 1, "color": "#888888"},
     "encoding": {"x": {"field": "g", "type": "quantitative", "axis": null}, "y": {"field": "hi", "type": "quantitative"}}},
    {"data": {"name": "box"}, "transform": [{"filter": "datum.p == 'C2'"}], "mark": {"type": "bar", "width": 40, "fill": "#bcbcbc", "stroke": "#999999", "strokeWidth": 1},
     "encoding": {"x": {"field": "g", "type": "quantitative", "axis": null}, "y": {"field": "q1", "type": "quantitative"}, "y2": {"field": "q3"}}},
    {"data": {"name": "box"}, "transform": [{"filter": "datum.p == 'C2'"}], "mark": {"type": "tick", "orient": "horizontal", "size": 40, "thickness": 2, "color": "#555555"},
     "encoding": {"x": {"field": "g", "type": "quantitative", "axis": null}, "y": {"field": "med", "type": "quantitative"}}},
    {"data": {"name": "pts"}, "transform": [{"filter": "datum.p == 'C2'"}], "mark": {"type": "point", "shape": "circle", "size": 12, "filled": false, "strokeWidth": 0.8, "color": "#777777"},
     "encoding": {"x": {"field": "g", "type": "quantitative", "axis": null}, "y": {"field": "v", "type": "quantitative"}}},
    {"data": {"name": "box"}, "transform": [{"filter": "datum.p == 'C2'"}], "mark": {"type": "rule", "color": "#aaaaaa"},
     "encoding": {"x": {"field": "g", "type": "quantitative", "axis": null}, "y": {"datum": -0.0991, "type": "quantitative"}, "y2": {"datum": -0.174}}},
    {"data": {"name": "box"}, "transform": [{"filter": "datum.p == 'C2'"}], "mark": {"type": "text", "font": "Lato", "fontSize": 14, "color": "#111111", "baseline": "middle"},
     "encoding": {"x": {"field": "g", "type": "quantitative", "axis": null}, "y": {"datum": -0.492, "type": "quantitative"}, "text": {"field": "lab"}}},
    {"data": {"name": "txt"}, "transform": [{"filter": "datum.p == 'C2' && datum.k == 'star'"}], "mark": {"type": "text", "font": "DejaVu Sans", "fontSize": 12, "color": "#444444", "stroke": "#555555", "strokeWidth": 0.25, "baseline": "middle", "dy": 3},
     "encoding": {"x": {"field": "x", "type": "quantitative", "axis": null}, "y": {"field": "y", "type": "quantitative"}, "text": {"field": "t"}}},
    {"data": {"name": "txt"}, "transform": [{"filter": "datum.p == 'C2' && datum.k == 'ns'"}], "mark": {"type": "text", "font": "DejaVu Sans", "fontSize": 11, "color": "#555555", "baseline": "middle"},
     "encoding": {"x": {"field": "x", "type": "quantitative", "axis": null}, "y": {"field": "y", "type": "quantitative"}, "text": {"field": "t"}}},
    {"data": {"name": "txt"}, "transform": [{"filter": "datum.p == 'C2' && datum.k == 'grp'"}], "mark": {"type": "text", "font": "Lato", "fontSize": 12.5, "color": "#111111", "baseline": "middle"},
     "encoding": {"x": {"field": "x", "type": "quantitative", "axis": null}, "y": {"field": "y", "type": "quantitative"}, "text": {"field": "t"}}},
    {"data": {"name": "txt"}, "transform": [{"filter": "datum.p == 'C2' && datum.k == 'ttl'"}], "mark": {"type": "text", "font": "Lato", "fontStyle": "italic", "fontSize": 15, "color": "#111111", "baseline": "middle"},
     "encoding": {"x": {"field": "x", "type": "quantitative", "axis": null}, "y": {"field": "y", "type": "quantitative"}, "text": {"field": "t"}}}
   ]},
  {"width": 220, "height": 273,
   "layer": [
    {"data": {"name": "segs"}, "transform": [{"filter": "datum.p == 'C3'"}], "mark": {"type": "rule"},
     "encoding": {
      "x": {"field": "x1", "type": "quantitative", "scale": {"domain": [0.31, 4.493], "nice": false, "zero": false}, "axis": null},
      "x2": {"field": "x2"},
      "y": {"field": "y1", "type": "quantitative", "scale": {"domain": [-2.824, 8.803], "nice": false, "zero": false}, "axis": {"values": [0,1,2,3,4,5], "labelOverlap": false, "title": null}},
      "y2": {"field": "y2"},
      "color": {"field": "k", "type": "nominal", "scale": {"domain": ["br","ax","ul","dash"], "range": ["#333333","#aaaaaa","#111111","#000000"]}, "legend": null},
      "strokeWidth": {"field": "k", "type": "ordinal", "scale": {"domain": ["br","ax","ul","dash"], "range": [1.2,1,1,2.6]}, "legend": null},
      "strokeDash": {"field": "k", "type": "ordinal", "scale": {"domain": ["br","ax","ul","dash"], "range": [[1,0],[1,0],[1,0],[9,6]]}, "legend": null}
     }},
    {"data": {"name": "box"}, "transform": [{"filter": "datum.p == 'C3'"}], "mark": {"type": "rule", "color": "#888888", "strokeDash": [2,2], "strokeWidth": 0.8},
     "encoding": {"x": {"field": "g", "type": "quantitative", "axis": null}, "y": {"field": "lo", "type": "quantitative"}, "y2": {"field": "hi"}}},
    {"data": {"name": "box"}, "transform": [{"filter": "datum.p == 'C3'"}], "mark": {"type": "tick", "orient": "horizontal", "size": 20, "thickness": 1, "color": "#888888"},
     "encoding": {"x": {"field": "g", "type": "quantitative", "axis": null}, "y": {"field": "lo", "type": "quantitative"}}},
    {"data": {"name": "box"}, "transform": [{"filter": "datum.p == 'C3'"}], "mark": {"type": "tick", "orient": "horizontal", "size": 20, "thickness": 1, "color": "#888888"},
     "encoding": {"x": {"field": "g", "type": "quantitative", "axis": null}, "y": {"field": "hi", "type": "quantitative"}}},
    {"data": {"name": "box"}, "transform": [{"filter": "datum.p == 'C3'"}], "mark": {"type": "bar", "width": 42, "fill": "#bcbcbc", "stroke": "#999999", "strokeWidth": 1},
     "encoding": {"x": {"field": "g", "type": "quantitative", "axis": null}, "y": {"field": "q1", "type": "quantitative"}, "y2": {"field": "q3"}}},
    {"data": {"name": "box"}, "transform": [{"filter": "datum.p == 'C3'"}], "mark": {"type": "tick", "orient": "horizontal", "size": 42, "thickness": 2, "color": "#555555"},
     "encoding": {"x": {"field": "g", "type": "quantitative", "axis": null}, "y": {"field": "med", "type": "quantitative"}}},
    {"data": {"name": "pts"}, "transform": [{"filter": "datum.p == 'C3'"}], "mark": {"type": "point", "shape": "circle", "size": 12, "filled": false, "strokeWidth": 0.8, "color": "#777777"},
     "encoding": {"x": {"field": "g", "type": "quantitative", "axis": null}, "y": {"field": "v", "type": "quantitative"}}},
    {"data": {"name": "box"}, "transform": [{"filter": "datum.p == 'C3'"}], "mark": {"type": "rule", "color": "#aaaaaa"},
     "encoding": {"x": {"field": "g", "type": "quantitative", "axis": null}, "y": {"datum": -0.17, "type": "quantitative"}, "y2": {"datum": -0.354}}},
    {"data": {"name": "box"}, "transform": [{"filter": "datum.p == 'C3'"}], "mark": {"type": "text", "font": "Lato", "fontSize": 14, "color": "#111111", "baseline": "middle"},
     "encoding": {"x": {"field": "g", "type": "quantitative", "axis": null}, "y": {"datum": -1.133, "type": "quantitative"}, "text": {"field": "lab"}}},
    {"data": {"name": "txt"}, "transform": [{"filter": "datum.p == 'C3' && datum.k == 'star'"}], "mark": {"type": "text", "font": "DejaVu Sans", "fontSize": 12, "color": "#444444", "stroke": "#555555", "strokeWidth": 0.25, "baseline": "middle", "dy": 3},
     "encoding": {"x": {"field": "x", "type": "quantitative", "axis": null}, "y": {"field": "y", "type": "quantitative"}, "text": {"field": "t"}}},
    {"data": {"name": "txt"}, "transform": [{"filter": "datum.p == 'C3' && datum.k == 'grp'"}], "mark": {"type": "text", "font": "Lato", "fontSize": 12.5, "color": "#111111", "baseline": "middle"},
     "encoding": {"x": {"field": "x", "type": "quantitative", "axis": null}, "y": {"field": "y", "type": "quantitative"}, "text": {"field": "t"}}},
    {"data": {"name": "txt"}, "transform": [{"filter": "datum.p == 'C3' && datum.k == 'ttl'"}], "mark": {"type": "text", "font": "Lato", "fontStyle": "italic", "fontSize": 15, "color": "#111111", "baseline": "middle"},
     "encoding": {"x": {"field": "x", "type": "quantitative", "axis": null}, "y": {"field": "y", "type": "quantitative"}, "text": {"field": "t"}}}
   ]}
 ], "spacing": 10, "bounds": "flush"}
]
}
